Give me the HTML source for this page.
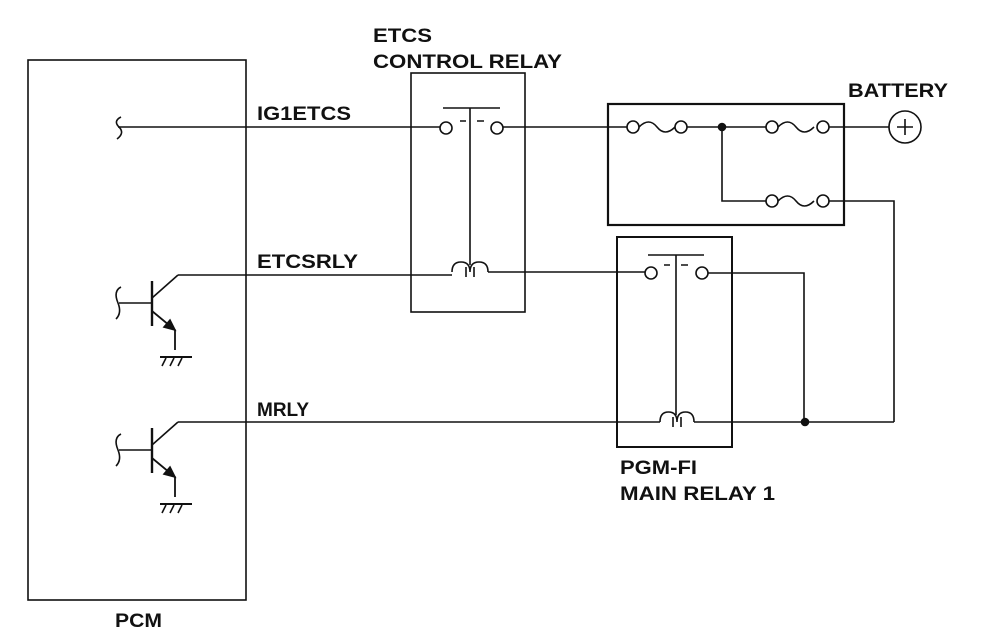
<!DOCTYPE html>
<html><head><style>
html,body{margin:0;padding:0;background:#fff;width:992px;height:640px;overflow:hidden}
svg{display:block}
text{font-family:"Liberation Sans",Arial,sans-serif;font-weight:bold;font-size:19px;fill:#111}
</style></head><body>
<svg width="992" height="640" viewBox="0 0 992 640" xmlns="http://www.w3.org/2000/svg">
<g fill="none" stroke="#111" stroke-width="1.6">
<rect x="28" y="60" width="218" height="540"/>
<rect x="411" y="73" width="114" height="239"/>
<rect x="608" y="104" width="236" height="121" stroke-width="2.2"/>
<rect x="617" y="237" width="115" height="210" stroke-width="2"/>

<path d="M118 127 H440"/>
<path d="M121 117 q-8 4 -2 10 q6 6 -2 12"/>
<circle cx="446" cy="128" r="6"/>
<circle cx="497" cy="128" r="6"/>
<path d="M443 108 H500 M470 108 V265 M460 121 H466 M477 121 H484"/>
<path d="M452 272 q0 -10 9 -10 q9 0 9 10 q0 -10 9 -10 q9 0 9 10"/>
<path d="M466 267 v10 M474 267 v10"/>
<path d="M503 127 H627"/>
<circle cx="633" cy="127" r="6"/>
<path d="M639 127 q10 -10 18 0 q8 10 18 0"/>
<circle cx="681" cy="127" r="6"/>
<path d="M687 127 H766"/>
<circle cx="722" cy="127" r="3.5" fill="#111"/>
<circle cx="772" cy="127" r="6"/>
<path d="M778 127 q10 -10 18 0 q8 10 18 0"/>
<circle cx="823" cy="127" r="6"/>
<path d="M722 127 V201 H766"/>
<circle cx="772" cy="201" r="6"/>
<path d="M778 201 q10 -10 18 0 q8 10 18 0"/>
<circle cx="823" cy="201" r="6"/>
<path d="M829 127 H889"/>
<circle cx="905" cy="127" r="16"/>
<path d="M897 127 H913 M905 119 V135"/>
<path d="M829 201 H894 V422"/>

<path d="M178 275 H452 M488 272 H645"/>
<circle cx="651" cy="273" r="6"/>
<circle cx="702" cy="273" r="6"/>
<path d="M648 255 H704 M676 255 V415 M664 265 H670 M681 265 H688"/>
<path d="M708 273 H804 V422"/>
<circle cx="805" cy="422" r="3.5" fill="#111"/>
<path d="M178 422 H660 M694 422 H894"/>
<path d="M660 422 q0 -10 8.5 -10 q8.5 0 8.5 10 q0 -10 8.5 -10 q8.5 0 8.5 10"/>
<path d="M673 417 v10 M681 417 v10"/>

<g>
<path d="M121 287 q-8 4 -3 16 q4 10 -2 16" />
<path d="M119 303 H152"/>
<path d="M152 281 V326" stroke-width="2.4"/>
<path d="M152 298 L178 275"/>
<path d="M152 311 L175 330 V350" stroke-width="1.8"/>
<path d="M160 357 H192" stroke-width="2"/>
<path d="M166 358 l-4 8 M174 358 l-4 8 M182 358 l-4 8"/>
<polygon points="175,330 164,327 170,320" fill="#111"/>
</g>
<g transform="translate(0,147)">
<path d="M121 287 q-8 4 -3 16 q4 10 -2 16" />
<path d="M119 303 H152"/>
<path d="M152 281 V326" stroke-width="2.4"/>
<path d="M152 298 L178 275"/>
<path d="M152 311 L175 330 V350" stroke-width="1.8"/>
<path d="M160 357 H192" stroke-width="2"/>
<path d="M166 358 l-4 8 M174 358 l-4 8 M182 358 l-4 8"/>
<polygon points="175,330 164,327 170,320" fill="#111"/>
</g>
</g>
<text x="373" y="42" textLength="59" lengthAdjust="spacingAndGlyphs">ETCS</text>
<text x="373" y="68" textLength="189" lengthAdjust="spacingAndGlyphs">CONTROL RELAY</text>
<text x="257" y="120" textLength="94" lengthAdjust="spacingAndGlyphs">IG1ETCS</text>
<text x="257" y="268" textLength="101" lengthAdjust="spacingAndGlyphs">ETCSRLY</text>
<text x="257" y="416">MRLY</text>
<text x="848" y="97" textLength="100" lengthAdjust="spacingAndGlyphs">BATTERY</text>
<text x="620" y="474" textLength="77" lengthAdjust="spacingAndGlyphs">PGM-FI</text>
<text x="620" y="500" textLength="155" lengthAdjust="spacingAndGlyphs">MAIN RELAY 1</text>
<text x="115" y="627" textLength="47" lengthAdjust="spacingAndGlyphs">PCM</text>
</svg>
</body></html>
